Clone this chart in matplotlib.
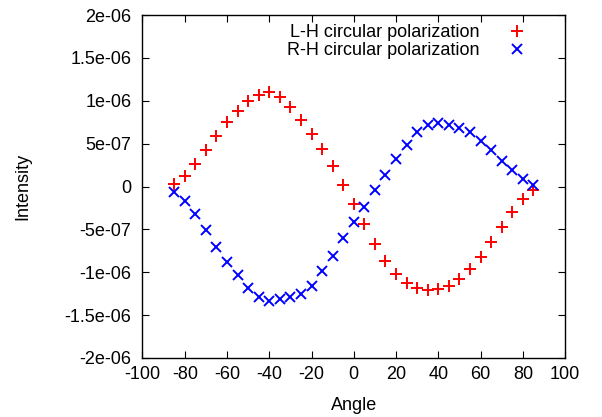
import matplotlib
matplotlib.use("Agg")
import matplotlib.pyplot as plt
from matplotlib.ticker import FixedLocator, FixedFormatter

angle = [-85, -80, -75, -70, -65, -60, -55, -50, -45, -40, -35, -30, -25, -20, -15,
         -10, -5, 0, 5, 10, 15, 20, 25, 30, 35, 40, 45, 50, 55, 60, 65, 70, 75, 80, 85]

# intensities in units of 1e-6
lh = [0.03, 0.126, 0.263, 0.427, 0.594, 0.754, 0.883, 0.992, 1.070, 1.097, 1.043,
      0.927, 0.778, 0.614, 0.439, 0.243, 0.014, -0.205, -0.439, -0.676, -0.868,
      -1.015, -1.125, -1.184, -1.211, -1.199, -1.156, -1.074, -0.965, -0.821,
      -0.649, -0.470, -0.298, -0.146, -0.041]
rh = [-0.061, -0.166, -0.318, -0.512, -0.704, -0.883, -1.035, -1.179, -1.289, -1.33,
      -1.31, -1.289, -1.257, -1.164, -0.985, -0.805, -0.606, -0.419, -0.236, -0.045,
      0.134, 0.318, 0.485, 0.641, 0.716, 0.739, 0.719, 0.688, 0.634, 0.536, 0.427,
      0.302, 0.193, 0.088, 0.018]

xticks = [-100, -80, -60, -40, -20, 0, 20, 40, 60, 80, 100]
yticks = [-2e-06, -1.5e-06, -1e-06, -5e-07, 0, 5e-07, 1e-06, 1.5e-06, 2e-06]
ytick_labels = ["-2e-06", "-1.5e-06", "-1e-06", "-5e-07", "0",
                "5e-07", "1e-06", "1.5e-06", "2e-06"]

plt.rcParams["font.family"] = ["Liberation Sans", "DejaVu Sans"]
plt.rcParams["font.size"] = 13
plt.rcParams["axes.unicode_minus"] = False

fig = plt.figure(figsize=(6.02, 4.17), dpi=100)
ax = fig.add_axes([0.2367, 0.1415, 0.702, 0.8225])

ax.plot(angle, [v * 1e-6 for v in lh], linestyle="none", marker="+", color="#ff0000",
        markersize=8, markeredgewidth=1.4, label="L-H circular polarization")
ax.plot(angle, [v * 1e-6 for v in rh], linestyle="none", marker="x", color="#0000ff",
        markersize=7.5, markeredgewidth=1.4, label="R-H circular polarization")

ax.set_xlim(-100, 100)
ax.set_ylim(-2e-06, 2e-06)
ax.xaxis.set_major_locator(FixedLocator(xticks))
ax.yaxis.set_major_locator(FixedLocator(yticks))
ax.yaxis.set_major_formatter(FixedFormatter(ytick_labels))
ax.tick_params(direction="in", top=True, right=True, length=5, width=0.8,
               labelsize=13, colors="black")
ax.tick_params(axis="x", pad=6)
ax.tick_params(axis="y", pad=8)
for s in ax.spines.values():
    s.set_linewidth(1.0)

ax.set_xlabel("Angle", fontsize=13, labelpad=10)
ax.set_ylabel("Intensity", fontsize=13, labelpad=24)

ax.legend(loc="upper right", markerfirst=False, frameon=False, fontsize=13,
          handlelength=1.0, handletextpad=1.6, labelspacing=0.05,
          borderaxespad=0.1, bbox_to_anchor=(0.93, 1.0))

fig.savefig("out.png", dpi=100)
